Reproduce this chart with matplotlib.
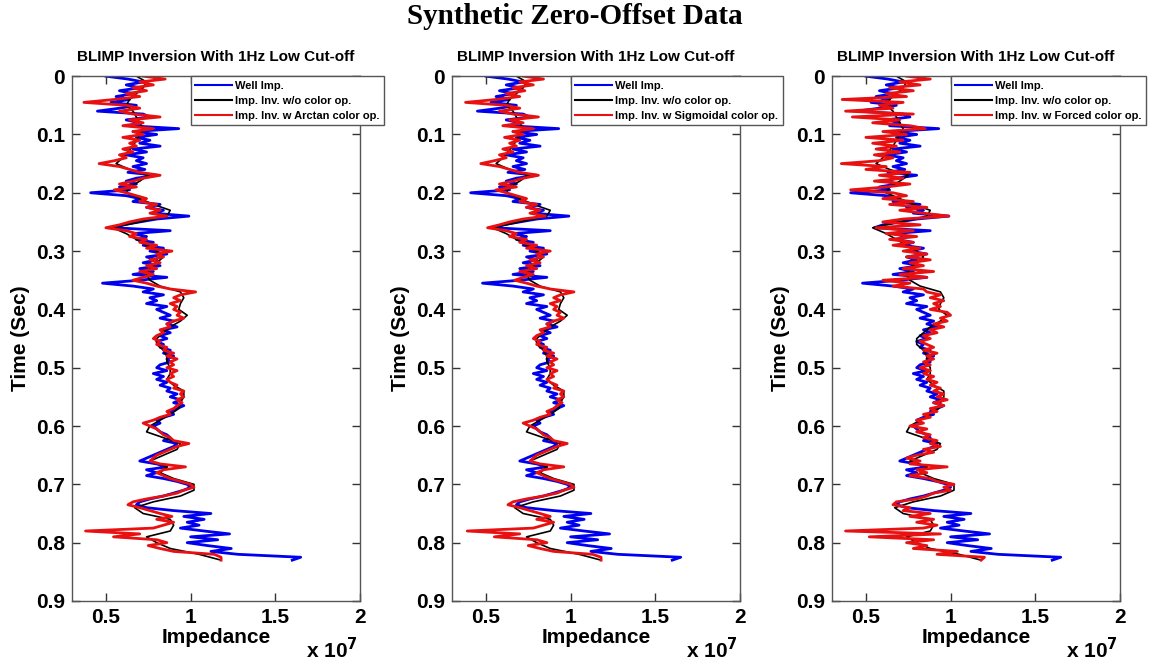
import numpy as np
import matplotlib
matplotlib.use("Agg")
import matplotlib.pyplot as plt

# impedance values in units of 1e7, time step 0.005 s (coarse one at 0.01 s)
dt_fine = 0.005
dt_coarse = 0.01

well_imp = [
    0.50, 0.63, 0.72, 0.62, 0.70, 0.58, 0.66, 0.56, 0.64, 0.53,
    0.68, 0.58, 0.45, 0.72, 0.76, 0.62, 0.70, 0.64, 0.93, 0.66,
    0.80, 0.68, 0.76, 0.70, 0.82, 0.66, 0.74, 0.62, 0.72, 0.68,
    0.74, 0.66, 0.73, 0.63, 0.80, 0.68, 0.62, 0.68, 0.58, 0.64,
    0.41, 0.62, 0.70, 0.66, 0.82, 0.74, 0.84, 0.78, 0.99, 0.80,
    0.70, 0.60, 0.55, 0.88, 0.66, 0.74, 0.68, 0.78, 0.72, 0.84,
    0.76, 0.86, 0.74, 0.80, 0.72, 0.82, 0.70, 0.78, 0.66, 0.86,
    0.70, 0.48, 0.66, 0.78, 0.72, 0.84, 0.76, 0.80, 0.74, 0.86,
    0.80, 0.84, 0.88, 0.82, 0.90, 0.86, 0.92, 0.84, 0.88, 0.82,
    0.86, 0.80, 0.84, 0.82, 0.88, 0.84, 0.90, 0.86, 0.88, 0.82,
    0.80, 0.86, 0.78, 0.84, 0.80, 0.86, 0.82, 0.88, 0.86, 0.92,
    0.88, 0.94, 0.90, 0.96, 0.92, 0.88, 0.90, 0.84, 0.80, 0.82,
    0.78, 0.80, 0.82, 0.86, 0.88, 0.84, 0.92, 0.90, 0.86, 0.82,
    0.78, 0.74, 0.70, 0.80, 0.86, 0.74, 0.80, 0.74, 0.84, 0.92,
    0.98, 1.00, 0.96, 0.90, 0.84, 0.76, 0.70, 0.68, 0.74, 0.90,
    1.12, 0.96, 1.08, 0.98, 1.05, 0.94, 1.08, 1.23, 1.00, 1.16,
    0.98, 1.10, 1.24, 1.12, 1.28, 1.65, 1.60,
]

inv_no_color = [
    0.68, 0.74, 0.72, 0.68, 0.64, 0.62, 0.66, 0.68, 0.70, 0.72,
    0.70, 0.68, 0.66, 0.63, 0.60, 0.56, 0.64, 0.75, 0.70, 0.64,
    0.62, 0.70, 0.78, 0.88, 0.86, 0.70, 0.54, 0.62, 0.68, 0.74,
    0.80, 0.84, 0.80, 0.76, 0.74, 0.76, 0.82, 0.94, 0.96, 0.94,
    0.93, 0.98, 0.94, 0.88, 0.84, 0.80, 0.80, 0.84, 0.86, 0.86,
    0.88, 0.88, 0.86, 0.90, 0.96, 0.96, 0.94, 0.93, 0.88, 0.82,
    0.76, 0.74, 0.84, 0.94, 0.92, 0.84, 0.76, 0.86, 0.82, 0.90,
    1.02, 1.02, 0.94, 0.78, 0.67, 0.72, 0.88, 0.90, 0.88, 0.74,
    0.80, 0.88, 1.05, 1.18,
]

inv_arctan = [
    0.72, 0.85, 0.70, 0.78, 0.66, 0.74, 0.62, 0.70, 0.55, 0.37,
    0.62, 0.70, 0.58, 0.66, 0.82, 0.64, 0.72, 0.60, 0.78, 0.66,
    0.72, 0.60, 0.70, 0.64, 0.68, 0.60, 0.66, 0.58, 0.62, 0.55,
    0.46, 0.58, 0.64, 0.70, 0.82, 0.72, 0.66, 0.58, 0.68, 0.55,
    0.62, 0.68, 0.74, 0.70, 0.80, 0.74, 0.82, 0.76, 0.86, 0.72,
    0.64, 0.58, 0.50, 0.62, 0.68, 0.64, 0.74, 0.70, 0.80, 0.74,
    0.89, 0.80, 0.84, 0.76, 0.82, 0.74, 0.80, 0.70, 0.78, 0.72,
    0.66, 0.74, 0.80, 0.88, 1.03, 0.94, 0.90, 0.94, 0.88, 0.92,
    0.90, 0.94, 0.92, 0.96, 0.90, 0.86, 0.88, 0.82, 0.84, 0.80,
    0.78, 0.82, 0.80, 0.86, 0.84, 0.90, 0.86, 0.92, 0.88, 0.90,
    0.86, 0.92, 0.88, 0.90, 0.86, 0.88, 0.92, 0.90, 0.96, 0.94,
    0.96, 0.92, 0.95, 0.92, 0.90, 0.86, 0.88, 0.82, 0.78, 0.72,
    0.76, 0.80, 0.82, 0.84, 0.88, 0.90, 0.99, 0.92, 0.88, 0.84,
    0.80, 0.78, 0.76, 0.82, 0.97, 0.84, 0.80, 0.84, 0.88, 0.94,
    1.00, 1.02, 0.96, 0.92, 0.84, 0.74, 0.66, 0.63, 0.70, 0.76,
    0.82, 0.89, 0.80, 0.90, 0.84, 0.78, 0.38, 0.70, 0.545, 0.80,
    0.86, 0.75, 0.82, 0.90, 1.14, 1.18, 1.18,
]

inv_sigmoidal = [
    0.72, 0.84, 0.70, 0.78, 0.66, 0.73, 0.62, 0.70, 0.56, 0.38,
    0.62, 0.70, 0.58, 0.66, 0.81, 0.64, 0.72, 0.60, 0.78, 0.66,
    0.72, 0.61, 0.70, 0.64, 0.68, 0.60, 0.66, 0.58, 0.62, 0.55,
    0.47, 0.58, 0.64, 0.70, 0.81, 0.72, 0.66, 0.58, 0.68, 0.56,
    0.62, 0.68, 0.74, 0.70, 0.80, 0.74, 0.82, 0.76, 0.85, 0.72,
    0.64, 0.58, 0.51, 0.62, 0.68, 0.64, 0.74, 0.70, 0.80, 0.74,
    0.88, 0.80, 0.84, 0.76, 0.82, 0.74, 0.80, 0.70, 0.78, 0.72,
    0.67, 0.74, 0.80, 0.88, 1.02, 0.94, 0.90, 0.94, 0.88, 0.92,
    0.90, 0.94, 0.92, 0.96, 0.90, 0.86, 0.88, 0.82, 0.84, 0.80,
    0.78, 0.82, 0.80, 0.86, 0.84, 0.90, 0.86, 0.92, 0.88, 0.90,
    0.86, 0.92, 0.88, 0.90, 0.86, 0.88, 0.92, 0.90, 0.96, 0.94,
    0.96, 0.92, 0.95, 0.92, 0.90, 0.86, 0.88, 0.82, 0.78, 0.72,
    0.76, 0.80, 0.82, 0.84, 0.88, 0.90, 0.98, 0.92, 0.88, 0.84,
    0.80, 0.78, 0.76, 0.82, 0.96, 0.84, 0.80, 0.84, 0.88, 0.94,
    1.00, 1.02, 0.96, 0.92, 0.84, 0.74, 0.66, 0.63, 0.70, 0.76,
    0.82, 0.88, 0.80, 0.90, 0.84, 0.78, 0.39, 0.70, 0.55, 0.80,
    0.86, 0.75, 0.82, 0.90, 1.13, 1.18, 1.18,
]

inv_forced = [
    0.74, 0.88, 0.70, 0.82, 0.64, 0.78, 0.62, 0.74, 0.36, 0.72,
    0.58, 0.66, 0.38, 0.78, 0.42, 0.70, 0.54, 0.76, 0.85, 0.60,
    0.74, 0.50, 0.72, 0.54, 0.68, 0.56, 0.70, 0.55, 0.66, 0.58,
    0.355, 0.62, 0.50, 0.76, 0.58, 0.72, 0.55, 0.76, 0.62, 0.41,
    0.66, 0.74, 0.60, 0.78, 0.64, 0.86, 0.70, 0.84, 0.99, 0.72,
    0.60, 0.82, 0.56, 0.78, 0.62, 0.80, 0.64, 0.78, 0.66, 0.82,
    0.72, 0.86, 0.74, 0.88, 0.76, 0.84, 0.72, 0.90, 0.70, 0.86,
    0.60, 0.76, 0.66, 0.84, 0.86, 0.94, 0.88, 0.96, 0.90, 0.94,
    0.88, 0.98, 1.00, 0.94, 0.98, 0.90, 0.96, 0.88, 0.92, 0.84,
    0.88, 0.82, 0.86, 0.90, 0.84, 0.92, 0.86, 0.90, 0.84, 0.88,
    0.82, 0.88, 0.84, 0.90, 0.86, 0.92, 0.88, 0.94, 0.90, 0.96,
    0.92, 0.98, 0.90, 0.96, 0.88, 0.92, 0.84, 0.88, 0.80, 0.84,
    0.76, 0.86, 0.80, 0.88, 0.84, 0.92, 0.88, 0.94, 0.84, 0.90,
    0.80, 0.74, 0.82, 0.76, 0.98, 0.80, 0.86, 0.76, 0.88, 0.92,
    1.02, 0.96, 1.00, 0.90, 0.86, 0.80, 0.68, 0.66, 0.76, 0.72,
    0.88, 0.76, 0.90, 0.80, 0.92, 0.84, 0.38, 0.94, 0.52, 0.90,
    0.74, 0.86, 0.78, 1.04, 0.92, 1.20, 1.18,
]

panel_titles = ["BLIMP Inversion With 1Hz Low Cut-off"] * 3
color_ops = ["Arctan", "Sigmoidal", "Forced"]
red_series = [inv_arctan, inv_sigmoidal, inv_forced]

t_fine = np.arange(len(well_imp)) * dt_fine
t_coarse = np.arange(len(inv_no_color)) * dt_coarse

plt.rcParams['font.family'] = ['Liberation Sans', 'DejaVu Sans']
plt.rcParams['font.weight'] = 'bold'

fig = plt.figure(figsize=(11.5, 6.61), dpi=100)
fig.suptitle("Synthetic Zero-Offset Data", family='Liberation Serif',
             fontweight='bold', fontsize=21, y=0.995)

lefts = [72, 452, 832]
for k in range(3):
    ax = fig.add_axes([lefts[k] / 1150, 0.0908, 288 / 1150, 0.794])
    ax.plot(well_imp, t_fine, color='#0000ee', lw=2.0, label='Well Imp.')
    ax.plot(inv_no_color, t_coarse, color='black', lw=1.2,
            label='Imp. Inv. w/o color op.')
    ax.plot(red_series[k], t_fine, color='#e81010', lw=2.0,
            label='Imp. Inv. w %s color op.' % color_ops[k])

    ax.set_xlim(0.3, 2.0)
    ax.set_ylim(0.9, 0)
    ax.set_xticks([0.5, 1, 1.5, 2])
    ax.set_xticklabels(['0.5', '1', '1.5', '2'])
    ax.set_yticks(np.round(np.arange(0, 0.91, 0.1), 1))
    ax.set_yticklabels(['0'] + ['%.1f' % v for v in np.arange(0.1, 0.91, 0.1)])
    ax.tick_params(direction='in', length=6, width=1, labelsize=15,
                   top=True, right=True, color='#333333', pad=5)
    for lab in ax.get_xticklabels() + ax.get_yticklabels():
        lab.set_fontweight('bold')
    for s in ax.spines.values():
        s.set_color('#555555')
        s.set_linewidth(1.0)

    ax.set_title(panel_titles[k], fontsize=11, fontweight='bold', pad=11)
    ax.set_ylabel("Time (Sec)", fontsize=15, fontweight='bold')
    ax.yaxis.set_label_coords(-0.145, 0.5)
    ax.set_xlabel("Impedance", fontsize=15, fontweight='bold')
    ax.xaxis.set_label_coords(0.5, -0.052)
    ax.text(0.903, -0.093, r'x 10$^{\mathbf{7}}$', transform=ax.transAxes,
            fontsize=15, fontweight='bold', ha='center', va='center')

    leg = ax.legend(loc='upper left', bbox_to_anchor=(0.413, 1.0),
                    borderaxespad=0, fancybox=False, framealpha=1,
                    edgecolor='#555555', prop={'size': 8, 'weight': 'bold'},
                    handlelength=3.3, handletextpad=0.3, labelspacing=0.45,
                    borderpad=0.4)
    leg.get_frame().set_linewidth(1.0)
    for line in leg.get_lines():
        line.set_linewidth(1.5)

fig.savefig('out.png', dpi=100)
